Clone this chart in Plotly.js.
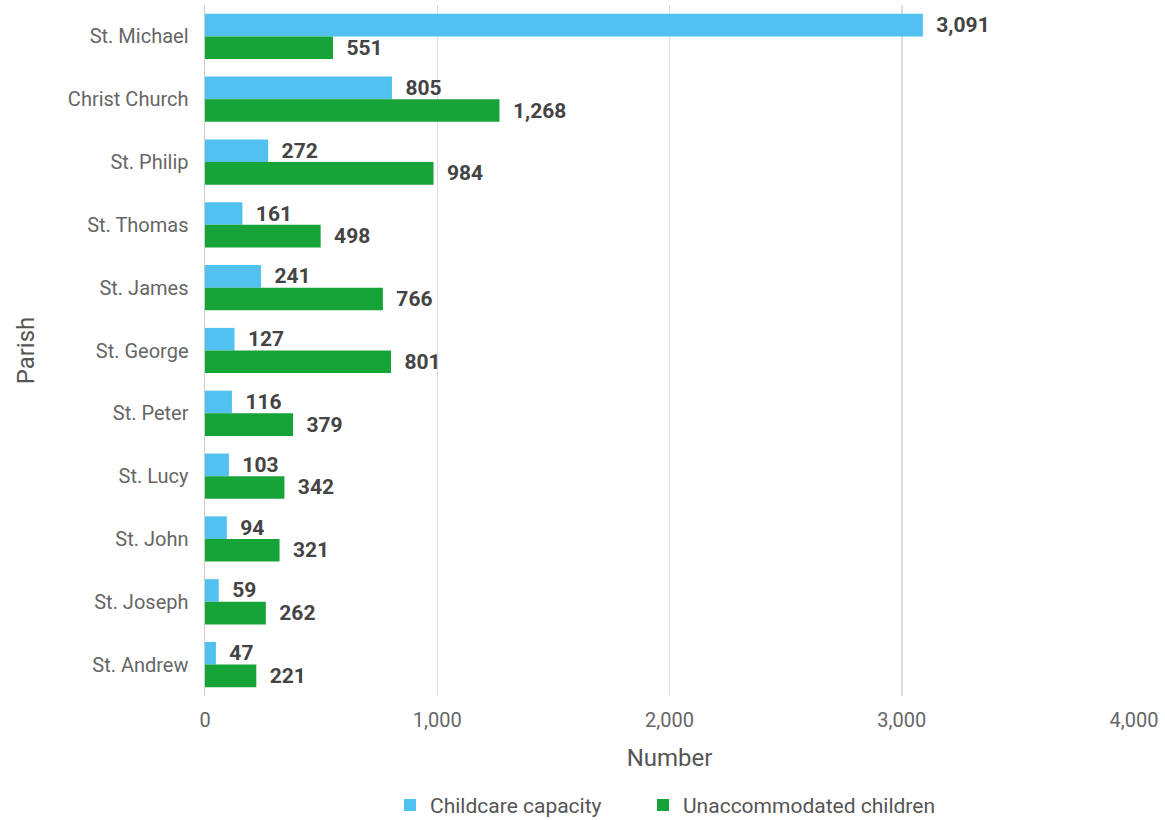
<!DOCTYPE html>
<html>
<head>
<meta charset="utf-8">
<script src="https://cdn.plot.ly/plotly-3.0.1.min.js"></script>
<style>html,body{margin:0;padding:0;background:#fff;}#chart{width:1165px;height:820px;}</style>
</head>
<body>
<div id="chart"></div>
<script>
const parishes = ["St. Michael","Christ Church","St. Philip","St. Thomas","St. James","St. George","St. Peter","St. Lucy","St. John","St. Joseph","St. Andrew"];
const childcareCapacity = [3091,805,272,161,241,127,116,103,94,59,47];
const unaccommodated = [551,1268,984,498,766,801,379,342,321,262,221];
const xTicks = [0,1000,2000,3000,4000];
const xTickLabels = ["0","1,000","2,000","3,000","4,000"];

const labelFont = {family:"Roboto, sans-serif", size:21, color:"#444444", weight:"bold"};
const traces = [
  {type:"bar", orientation:"h", name:"Childcare capacity", y:parishes, x:childcareCapacity, legend:"legend",
   marker:{color:"#51C1EF"}, texttemplate:"  %{x:,}", textposition:"outside", constraintext:"none", textfont:labelFont, cliponaxis:false, hoverinfo:"x+y"},
  {type:"bar", orientation:"h", name:"Unaccommodated children", y:parishes, x:unaccommodated, legend:"legend2",
   marker:{color:"#16A338"}, texttemplate:"  %{x:,}", textposition:"outside", constraintext:"none", textfont:labelFont, cliponaxis:false, hoverinfo:"x+y"}
];
const legendBase = {orientation:"h", xanchor:"left", xref:"container", yanchor:"top", yref:"container", y:0.043,
                    font:{size:21, color:"#555555"}, bgcolor:"rgba(0,0,0,0)"};
const layout = {
  width:1165, height:820,
  margin:{l:205, r:31, t:5, b:124},
  paper_bgcolor:"#ffffff", plot_bgcolor:"#ffffff",
  font:{family:"Roboto, sans-serif", color:"#666666"},
  barmode:"group", bargap:0.28, bargroupgap:0,
  showlegend:true,
  legend:Object.assign({}, legendBase, {x:390/1165}),
  legend2:Object.assign({}, legendBase, {x:643/1165}),
  xaxis:{range:[0,4000], tickvals:xTicks, ticktext:xTickLabels, showgrid:true, gridcolor:"#dddddd", gridwidth:1.5, zeroline:false,
         showline:false, tickfont:{size:20, color:"#666666"}, ticks:"", ticklabelstandoff:10,
         title:{text:"Number", font:{size:24, color:"#555555"}, standoff:18}},
  yaxis:{autorange:"reversed", type:"category", showline:true, linecolor:"#cccccc", linewidth:1.5, showgrid:false,
         tickfont:{size:20, color:"#666666"}, ticks:"", ticklabelstandoff:11,
         title:{text:"Parish", font:{size:24, color:"#555555"}, standoff:26}}
};
Plotly.newPlot("chart", traces, layout, {displayModeBar:false, staticPlot:true});
</script>
</body>
</html>
